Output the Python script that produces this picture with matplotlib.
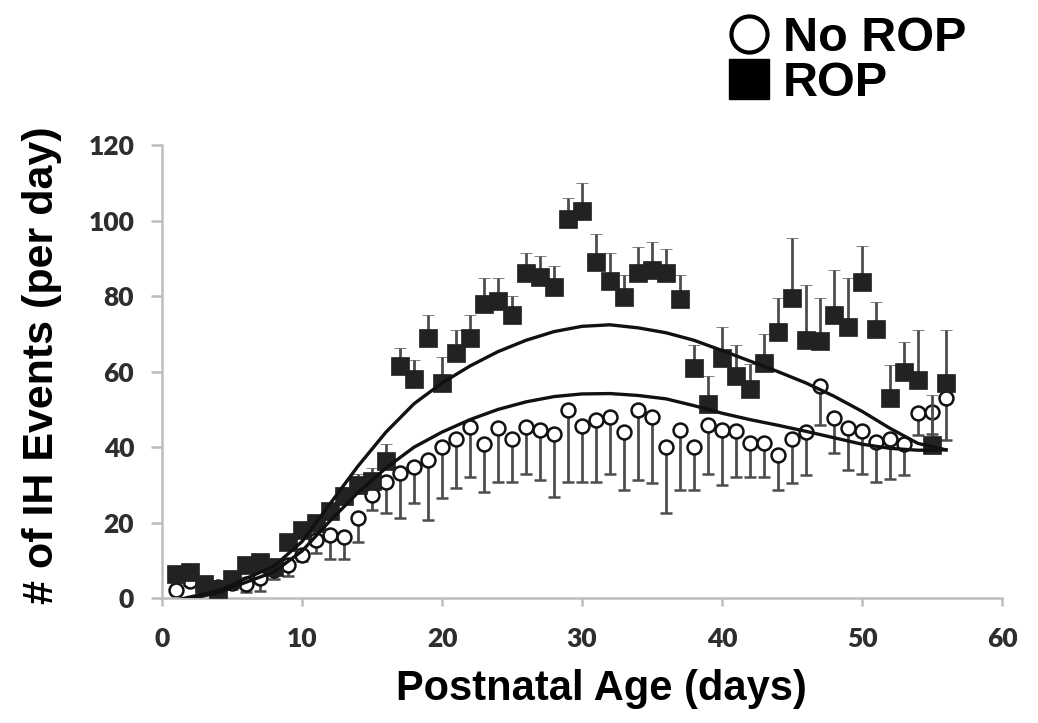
import numpy as np
import matplotlib
matplotlib.use("Agg")
import matplotlib.pyplot as plt
from matplotlib.lines import Line2D

# postnatal day of each daily mean
days = np.arange(1, 57)

# infants that developed ROP: daily mean IH events and upper SEM
rop_mean = [6.5, 7, 3.8, 2.5, 5, 8.8, 9.5, 8.3, 15, 18,
            20, 23, 27, 30, 31, 36.3, 61.5, 58, 69, 57,
            65, 68.8, 78, 78.7, 75, 86, 85, 82.3, 100.5, 102.5,
            89, 84, 79.7, 86, 87, 86, 79.3, 61, 51.5, 63.5,
            58.8, 55.3, 62.3, 70.6, 79.5, 68.5, 68.2, 75, 71.8, 83.8,
            71.4, 53, 60, 57.8, 40.6, 56.9]
rop_err = [2, 2, 1.5, 1.5, 1.5, 2, 2, 2, 2, 2,
           2, 2, 2.5, 3, 3.5, 4.5, 4.7, 5, 6, 7,
           6, 6.2, 6.7, 6, 5, 5.3, 5.5, 5.7, 5.5, 7.5,
           7.5, 7.3, 5.8, 7, 7.3, 6.6, 6.2, 6, 7.3, 8.4,
           8.2, 6.7, 7.7, 8.8, 16, 14.4, 11.2, 11.8, 12.9, 9.4,
           7.1, 8.7, 7.9, 13.2, 13.2, 14.1]

# infants without ROP: daily mean IH events and lower SEM
norop_mean = [2.2, 4.5, 3, 3, 4, 3.8, 5.3, 7.5, 8.8, 11.5,
              15.4, 16.7, 16.3, 21.2, 27.3, 30.8, 33.2, 34.8, 36.6, 40,
              42.3, 45.4, 40.8, 45, 42.3, 45.4, 44.5, 43.6, 49.8, 45.5,
              47.2, 48, 44.1, 49.8, 47.9, 40.1, 44.5, 40.1, 45.8, 44.5,
              44.2, 41, 41.2, 37.9, 42.3, 44.1, 56.2, 47.8, 45, 44.3,
              41.4, 42.1, 40.8, 49, 49.4, 53]
norop_err = [1, 1, 1, 1, 1.5, 2, 3.3, 2.5, 2.9, 1.5,
             3.4, 6.3, 5.9, 6.2, 3.9, 8.3, 12, 9.5, 15.9, 13.4,
             13.2, 13.2, 12.6, 14.2, 11.5, 12.4, 13.2, 16.7, 19, 14.7,
             16.4, 15, 15.4, 18.5, 17.5, 17.6, 15.8, 11.4, 12.8, 14.5,
             12, 8.8, 9, 9.1, 11.9, 11.5, 10.4, 9.4, 11.1, 11.3,
             10.6, 10.6, 8.2, 5.8, 5.8, 11.1]

# trend curves for both groups
trend_days = [1, 4, 8, 10, 12, 14, 16, 18, 20, 22, 24, 26, 28, 30,
              32, 34, 36, 38, 40, 42, 44, 46, 48, 50, 52, 54, 56]
rop_trend = [-0.5, 2, 8.5, 15, 25, 35, 44, 51.5, 57, 61.5, 65.3, 68.3, 70.6, 72,
             72.4, 71.6, 70.3, 68.3, 65.6, 62.8, 60, 57, 53.5, 49.5, 45, 41, 39.3]
norop_trend = [-1, 1.5, 7, 12.5, 20.5, 28, 34.5, 40, 44, 47.3, 50, 52, 53.4, 54.1,
               54.2, 53.7, 52.8, 51, 49, 47.3, 45.8, 44.2, 42.5, 40.8, 39.7, 39.2, 39.3]

x_ticks = [0, 10, 20, 30, 40, 50, 60]
y_ticks = [0, 20, 40, 60, 80, 100, 120]

fig = plt.figure(figsize=(10.38, 7.23), dpi=100)
ax = fig.add_axes([162 / 1038, 1 - 598.3 / 723, 840 / 1038, 453.3 / 723])

err_color = "#4d4d4d"
zeros = np.zeros(len(days))

# no ROP: open circles, error bars pointing down
ax.errorbar(days, norop_mean, yerr=[norop_err, zeros], fmt="o", ms=10,
            mfc="white", mec="#111111", mew=1.8, ecolor=err_color,
            elinewidth=2.0, capsize=4.3, capthick=2.0, zorder=2)

# ROP: filled squares, error bars pointing up
ax.errorbar(days, rop_mean, yerr=[zeros, rop_err], fmt="s", ms=12.5,
            mfc="#222222", mec="#222222", mew=0.5, ecolor=err_color,
            elinewidth=2.0, capsize=4.3, capthick=2.0, zorder=3)

ax.plot(trend_days, rop_trend, color="#111111", lw=2.4, zorder=4)
ax.plot(trend_days, norop_trend, color="#111111", lw=2.4, zorder=4)

ax.set_xlim(0, 60)
ax.set_ylim(0, 120)
ax.set_xticks(x_ticks)
ax.set_yticks(y_ticks)

for side in ["top", "right"]:
    ax.spines[side].set_visible(False)
for side in ["left", "bottom"]:
    ax.spines[side].set_color("#bdbdbd")
    ax.spines[side].set_linewidth(1.8)

ax.tick_params(axis="x", direction="out", length=6, width=1.8, color="#bdbdbd", pad=15)
ax.tick_params(axis="y", direction="out", length=8, width=1.8, color="#bdbdbd", pad=12)
for lbl in ax.get_xticklabels() + ax.get_yticklabels():
    lbl.set_fontfamily("Lato")
    lbl.set_fontweight("heavy")
    lbl.set_fontsize(19)
    lbl.set_color("#2e2e2e")

ax.set_xlabel("Postnatal Age (days)", fontsize=30, fontweight="bold",
              family="Liberation Sans", va="top")
ax.xaxis.set_label_coords(0.523, -0.155)
ax.set_ylabel("# of IH Events (per day)", fontsize=31, fontweight="bold",
              family="Liberation Sans")
ax.yaxis.set_label_coords(-0.119, 0.515)

handles = [
    Line2D([], [], ls="none", marker="o", ms=26, mfc="white", mec="black", mew=3),
    Line2D([], [], ls="none", marker="s", ms=29, mfc="black", mec="black"),
]
fig.legend(handles, ["No ROP", "ROP"], loc="upper left",
           bbox_to_anchor=(0.677, 1.012), frameon=False, borderpad=0,
           handlelength=0.9, handletextpad=0.25, labelspacing=0.0,
           prop={"family": "Liberation Sans", "weight": "bold", "size": 35})

fig.savefig("out.png", dpi=100)
